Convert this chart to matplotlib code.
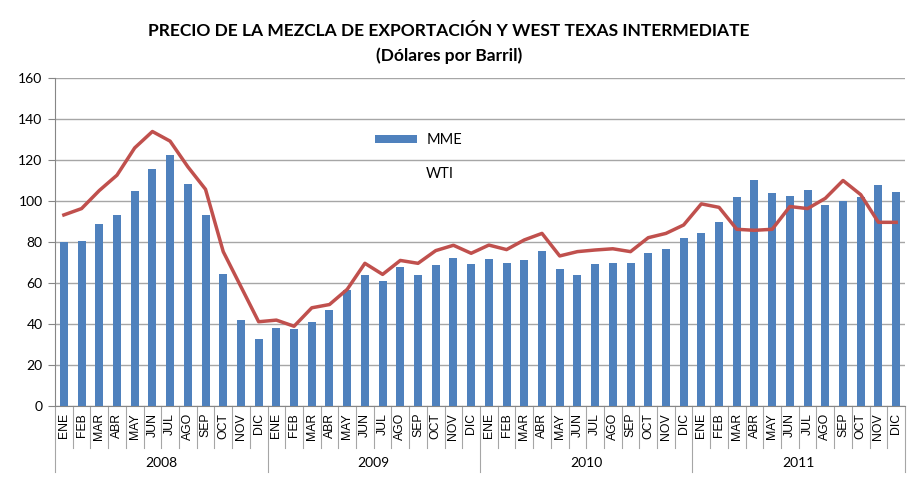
import matplotlib
matplotlib.use("Agg")
import matplotlib.pyplot as plt
from matplotlib.patches import Patch
from matplotlib.lines import Line2D
import matplotlib.transforms as mtransforms

months = ["ENE", "FEB", "MAR", "ABR", "MAY", "JUN", "JUL", "AGO", "SEP", "OCT", "NOV", "DIC"]
years = ["2008", "2009", "2010", "2011"]

mme = [79.8, 80.3, 88.8, 93.4, 104.9, 115.7, 122.4, 108.2, 93.0, 64.5, 41.9, 32.9,
       38.1, 37.6, 41.2, 46.6, 56.7, 63.9, 60.9, 67.6, 63.9, 68.6, 72.3, 69.2,
       71.9, 69.7, 71.2, 75.4, 66.6, 63.9, 69.2, 69.7, 69.7, 74.5, 76.6, 81.8,
       84.4, 89.8, 101.8, 110.3, 104.0, 102.3, 105.4, 98.1, 100.2, 101.8, 107.7, 104.4]
wti = [93.2, 96.3, 105.1, 112.6, 125.9, 133.9, 129.2, 116.7, 105.7, 75.3, 58.2, 41.1,
       41.9, 38.9, 47.9, 49.5, 56.9, 69.6, 64.2, 71.0, 69.6, 75.8, 78.4, 74.5,
       78.5, 76.3, 81.0, 84.2, 73.2, 75.3, 76.1, 76.7, 75.3, 82.1, 84.2, 88.3,
       98.6, 96.9, 86.2, 85.7, 86.2, 97.3, 96.3, 101.3, 110.0, 103.1, 89.6, 89.6]

W, H = 910, 499
fig = plt.figure(figsize=(W / 100, H / 100), dpi=100)
fig.patch.set_facecolor("white")
ax = fig.add_axes([55 / W, 1 - 406 / H, 850 / W, 328 / H])

n = len(mme)
x = list(range(n))
ax.bar(x, mme, width=0.45, color="#4F81BD", zorder=3, label="MME")
ax.plot(x, wti, color="#C0504D", lw=2.5, zorder=4, label="WTI")

ax.set_xlim(-0.5, n - 0.5)
ax.set_ylim(0, 160)
ax.set_yticks(range(0, 161, 20))
ax.yaxis.grid(True, color="#A6A6A6", lw=1.0, zorder=0)
for s in ["top", "right"]:
    ax.spines[s].set_visible(False)
ax.spines["left"].set_color("#868686")
ax.spines["bottom"].set_color("#868686")
ax.tick_params(axis="y", length=5, color="#868686", labelsize=10, pad=4)
for lab in ax.get_yticklabels():
    lab.set_fontfamily("Lato")

labels = [months[i % 12] for i in range(n)]
ax.set_xticks(x)
ax.set_xticklabels(labels, rotation=90, fontsize=8.8, family="Liberation Sans", va="top")
ax.tick_params(axis="x", length=0, pad=5)

trans = mtransforms.blended_transform_factory(ax.transData, ax.transAxes)
for i in range(n + 1):
    xe = i - 0.5
    ybot = -66 / 328 if i % 12 == 0 else -42 / 328
    ax.plot([xe, xe], [0, ybot], transform=trans, color="#A6A6A6", lw=0.8, clip_on=False)
for k, yr in enumerate(years):
    ax.text(k * 12 + 5.5, -57 / 328, yr, transform=trans, ha="center", va="center",
            fontsize=10, family="Lato")

fig.text(449 / W, 1 - 31 / H, "PRECIO DE LA MEZCLA DE EXPORTACIÓN Y WEST TEXAS INTERMEDIATE",
         ha="center", va="center", fontsize=12.5, fontweight="bold", family="Lato")
fig.text(449 / W, 1 - 56 / H, "(Dólares por Barril)",
         ha="center", va="center", fontsize=12.5, fontweight="bold", family="Lato")

handles = [Patch(facecolor="#4F81BD", edgecolor="none"),
           Line2D([], [], color="none")]
leg = ax.legend(handles, ["MME", "WTI"], loc="upper left",
                bbox_to_anchor=(362 / W, 1 - 120 / H), bbox_transform=fig.transFigure,
                frameon=False, handlelength=2.9, handleheight=0.5,
                labelspacing=1.35, handletextpad=0.6, prop={"family": "Lato", "size": 10.5})

fig.savefig("out.png", dpi=100, facecolor="white")
